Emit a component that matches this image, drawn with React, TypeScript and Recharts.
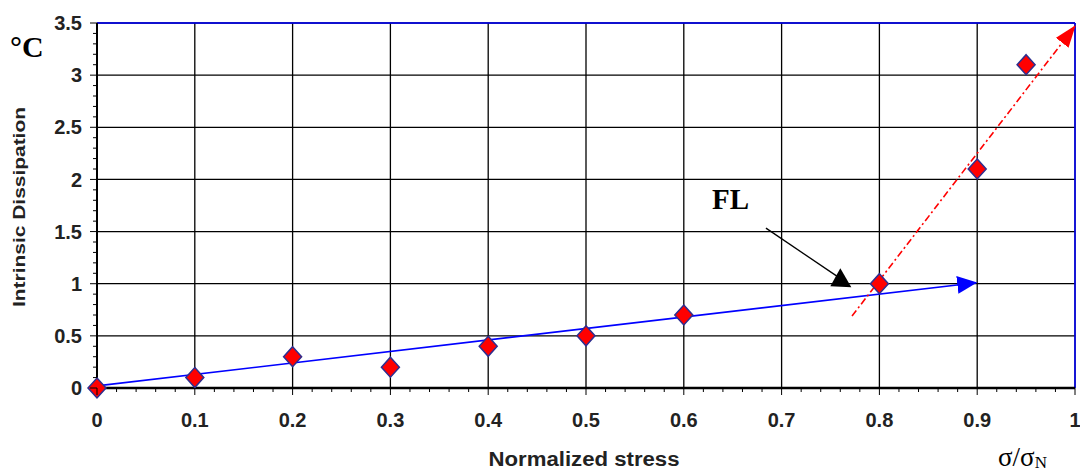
import React from 'react'
import {
  ComposedChart,
  Scatter,
  Line,
  XAxis,
  YAxis,
  CartesianGrid,
  ReferenceLine,
} from 'recharts'

// measured points
const stress = [0, 0.1, 0.2, 0.3, 0.4, 0.5, 0.6, 0.8, 0.9, 0.95]
const dissipation = [0, 0.1, 0.3, 0.2, 0.4, 0.5, 0.7, 1.0, 2.1, 3.1]

// trend arrows (start, end)
const blueTrendX = [0, 0.899]
const blueTrendY = [0.02, 1.01]
const redTrendX = [0.772, 1.0]
const redTrendY = [0.69, 3.47]
const flArrowX = [0.684, 0.758]
const flArrowY = [1.533, 1.063]

const xTicks = [0, 0.1, 0.2, 0.3, 0.4, 0.5, 0.6, 0.7, 0.8, 0.9, 1]
const yTicks = [0, 0.5, 1, 1.5, 2, 2.5, 3, 3.5]
// minor steps: 0.02 on x, 0.1 on y (majors included)
const xAllTicks = Array.from({ length: 51 }, (_, i) => (i * 2) / 100)
const yAllTicks = Array.from({ length: 36 }, (_, i) => i / 10)

const X_MAX = 1
const Y_MAX = 3.5

const points = stress.map((x, i) => ({ x, y: dissipation[i] }))
const toXY = (xs: number[], ys: number[]) => xs.map((x, i) => ({ x, y: ys[i] }))
const blueTrend = toXY(blueTrendX, blueTrendY)
const redTrend = toXY(redTrendX, redTrendY)
const flArrow = toXY(flArrowX, flArrowY)

const W = 1080
const H = 474
const SANS = '"Liberation Sans", Arial, sans-serif'
const SERIF = '"Liberation Serif", "Times New Roman", serif'

const TICK_SIZE = 7
const X_MARGIN = 18
const Y_MARGIN = 8

const isMajor = (v: number, list: number[]) => list.some(t => Math.abs(t - v) < 1e-6)

function XTick(props: any) {
  const { x, y, payload } = props
  const v = payload.value
  const axisY = y - TICK_SIZE - X_MARGIN
  const major = isMajor(v, xTicks)
  return (
    <g>
      <line x1={x} x2={x} y1={axisY} y2={axisY + (major ? 7 : 4)} stroke="#000" />
      {major && (
        <text x={x} y={y} dy="0.71em" textAnchor="middle" fontSize={20} fontWeight={700}
          fill="#222" fontFamily={SANS}>{String(v)}</text>
      )}
    </g>
  )
}

function YTick(props: any) {
  const { x, y, payload } = props
  const v = payload.value
  const axisX = x + TICK_SIZE + Y_MARGIN
  const major = isMajor(v, yTicks)
  return (
    <g>
      <line x1={axisX} x2={axisX - (major ? 7 : 4)} y1={y} y2={y} stroke="#000" />
      {major && (
        <text x={x} y={y} dy="0.355em" textAnchor="end" fontSize={20} fontWeight={700}
          fill="#222" fontFamily={SANS}>{String(v)}</text>
      )}
    </g>
  )
}

// grid only at the major ticks (axes carry the minor ones too)
const gridX = ({ offset }: any) => xTicks.map(v => offset.left + (offset.width * v) / X_MAX)
const gridY = ({ offset }: any) => yTicks.map(v => offset.top + offset.height * (1 - v / Y_MAX))

function Diamond(props: any) {
  const { cx, cy } = props
  if (cx == null || cy == null) return null
  return (
    <polygon
      points={`${cx},${cy - 10} ${cx + 9},${cy} ${cx},${cy + 10} ${cx - 9},${cy}`}
      fill="#ff0000"
      stroke="#2e2e8f"
      strokeWidth={1.5}
    />
  )
}

export default function App() {
  return (
    <div style={{ position: 'absolute', left: 0, top: 0, width: W, height: H, background: '#fff' }}>
      <ComposedChart width={W} height={H} margin={{ top: 23, right: 5, bottom: 0, left: 0 }}>
        <defs>
          <marker id="blueHead" viewBox="0 0 20 18" refX="19" refY="9" markerWidth="20" markerHeight="18"
            markerUnits="userSpaceOnUse" orient="auto">
            <path d="M0,0 L20,9 L0,18 Z" fill="#0000ff" />
          </marker>
          <marker id="redHead" viewBox="0 0 22 16" refX="21" refY="8" markerWidth="22" markerHeight="16"
            markerUnits="userSpaceOnUse" orient="auto">
            <path d="M0,0 L22,8 L0,16 Z" fill="#ff0000" />
          </marker>
          <marker id="blackHead" viewBox="0 0 22 20" refX="8" refY="9" markerWidth="22" markerHeight="20"
            markerUnits="userSpaceOnUse" orient="0">
            <path d="M0,18 L21,19 L10,0 Z" fill="#000" />
          </marker>
        </defs>

        <XAxis type="number" dataKey="x" domain={[0, X_MAX]} ticks={xAllTicks} interval={0}
          height={86} tickSize={TICK_SIZE} tickMargin={X_MARGIN} tick={<XTick />} tickLine={false}
          axisLine={{ stroke: '#000', strokeWidth: 2.5 }} />
        <YAxis type="number" dataKey="y" domain={[0, Y_MAX]} ticks={yAllTicks} interval={0}
          width={97} tickSize={TICK_SIZE} tickMargin={Y_MARGIN} tick={<YTick />} tickLine={false}
          axisLine={{ stroke: '#000', strokeWidth: 2 }} />

        <CartesianGrid stroke="#000" strokeWidth={1.3}
          verticalCoordinatesGenerator={gridX} horizontalCoordinatesGenerator={gridY} />
        <ReferenceLine y={Y_MAX} stroke="#0000ff" strokeWidth={1.5} />
        <ReferenceLine x={X_MAX} stroke="#0000ff" strokeWidth={1.5} />

        <Line data={blueTrend} dataKey="y" type="linear"
          stroke="#0000ff" strokeWidth={1.6} dot={false} activeDot={false}
          markerEnd="url(#blueHead)" isAnimationActive={false} />
        <Line data={redTrend} dataKey="y" type="linear"
          stroke="#ff0000" strokeWidth={1.6} strokeDasharray="7 3 2 3" dot={false} activeDot={false}
          markerEnd="url(#redHead)" isAnimationActive={false} />
        <Line data={flArrow} dataKey="y" type="linear"
          stroke="#000" strokeWidth={1.3} dot={false} activeDot={false}
          markerEnd="url(#blackHead)" isAnimationActive={false} />

        <Scatter data={points} dataKey="y" shape={<Diamond />} isAnimationActive={false} />
      </ComposedChart>

      <svg width={W} height={H} style={{ position: 'absolute', left: 0, top: 0, pointerEvents: 'none' }}>
        <text x={10} y={57} fontFamily={SERIF} fontWeight={700} fontSize={30} fill="#000">°C</text>
        <text transform="translate(25,207) rotate(-90)" textAnchor="middle" fontFamily={SANS}
          fontWeight={700} fontSize={16} fill="#222" textLength={200} lengthAdjust="spacingAndGlyphs">
          Intrinsic Dissipation
        </text>
        <text x={584} y={466} textAnchor="middle" fontFamily={SANS} fontWeight={700} fontSize={20}
          fill="#222" textLength={191} lengthAdjust="spacingAndGlyphs">
          Normalized stress
        </text>
        <text x={998} y={466} fontFamily={SERIF} fontSize={27} fill="#000">
          σ/σ<tspan fontSize={17} dy={2}>N</tspan>
        </text>
        <text x={712} y={209} fontFamily={SERIF} fontWeight={700} fontSize={29} fill="#000">FL</text>
      </svg>
    </div>
  )
}
